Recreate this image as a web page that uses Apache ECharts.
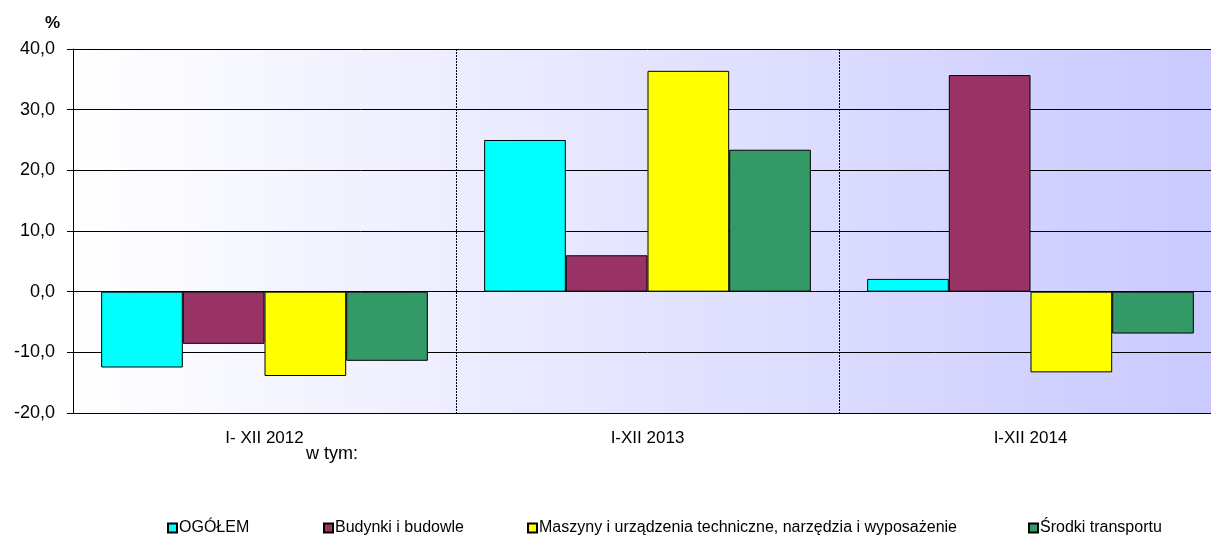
<!DOCTYPE html>
<html><head><meta charset="utf-8">
<script src="https://cdn.jsdelivr.net/npm/echarts@6/dist/echarts.min.js"></script>
<style>html,body{margin:0;padding:0;background:#fff;overflow:hidden;width:1211px;height:536px;}#c{width:1222px;height:536px;}</style>
</head><body><div id="c"></div>
<script>
var categories = ['I- XII 2012', 'I-XII 2013', 'I-XII 2014'];
var seriesNames = ['OGÓŁEM', 'Budynki i budowle', 'Maszyny i urządzenia techniczne, narzędzia i wyposażenie', 'Środki transportu'];
var ogolem = [-12.5, 25.0, 2.1];
var budynki = [-8.6, 6.0, 35.7];
var maszyny = [-13.9, 36.4, -13.3];
var srodki = [-11.4, 23.4, -6.9];
var yTicks = { min: -20, max: 40, interval: 10 };
var colors = ['#00FFFF', '#993366', '#FFFF00', '#339966'];
var values = [ogolem, budynki, maszyny, srodki];

var chart = echarts.init(document.getElementById('c'));
var font = 'Liberation Sans, Arial, sans-serif';
var legendLefts = [162, 318, 522, 1023];

var option = {
  animation: false,
  textStyle: { fontFamily: font },
  grid: {
    left: 73, top: 49, width: 1149, height: 364,
    show: true, borderWidth: 0,
    backgroundColor: new echarts.graphic.LinearGradient(0, 0, 1, 0, [
      { offset: 0, color: '#ffffff' },
      { offset: 1, color: '#c9c9ff' }
    ])
  },
  legend: seriesNames.map(function (n, i) {
    return {
      data: [n], left: legendLefts[i], top: 515,
      icon: 'rect', itemWidth: 9, itemHeight: 9, itemGap: 4,
      textStyle: { fontSize: 16, color: '#000', fontFamily: font, padding: [0, 0, 0, -3] },
      selectedMode: false
    };
  }),
  xAxis: {
    type: 'category', data: categories,
    axisLine: { show: true, onZero: false, lineStyle: { color: '#000', width: 1 } },
    axisTick: { show: false },
    axisLabel: { fontSize: 17, color: '#000', margin: 17 },
    splitLine: { show: true, lineStyle: { color: '#000', type: [2, 1], width: 1 } }
  },
  yAxis: {
    type: 'value', min: yTicks.min, max: yTicks.max, interval: yTicks.interval,
    axisLine: { show: true, lineStyle: { color: '#000', width: 1 } },
    axisTick: { show: true, inside: false, length: 6, lineStyle: { color: '#000' } },
    axisLabel: { fontSize: 18, color: '#000', margin: 18, formatter: function (v) { return v.toFixed(1).replace('.', ','); } },
    splitLine: { show: true, lineStyle: { color: '#000', width: 1 } }
  },
  graphic: [
    { type: 'text', left: 45, top: 15, style: { text: '%', font: 'bold 17px ' + font, fill: '#000' } },
    { type: 'text', left: 306, top: 445, style: { text: 'w tym:', font: '18px ' + font, fill: '#000' } }
  ],
  series: seriesNames.map(function (n, i) {
    return {
      name: n, type: 'bar', data: values[i],
      barGap: '0%', barCategoryGap: '14.7%',
      itemStyle: { color: colors[i], borderColor: '#000', borderWidth: 1 }
    };
  })
};
chart.setOption(option);
</script></body></html>
